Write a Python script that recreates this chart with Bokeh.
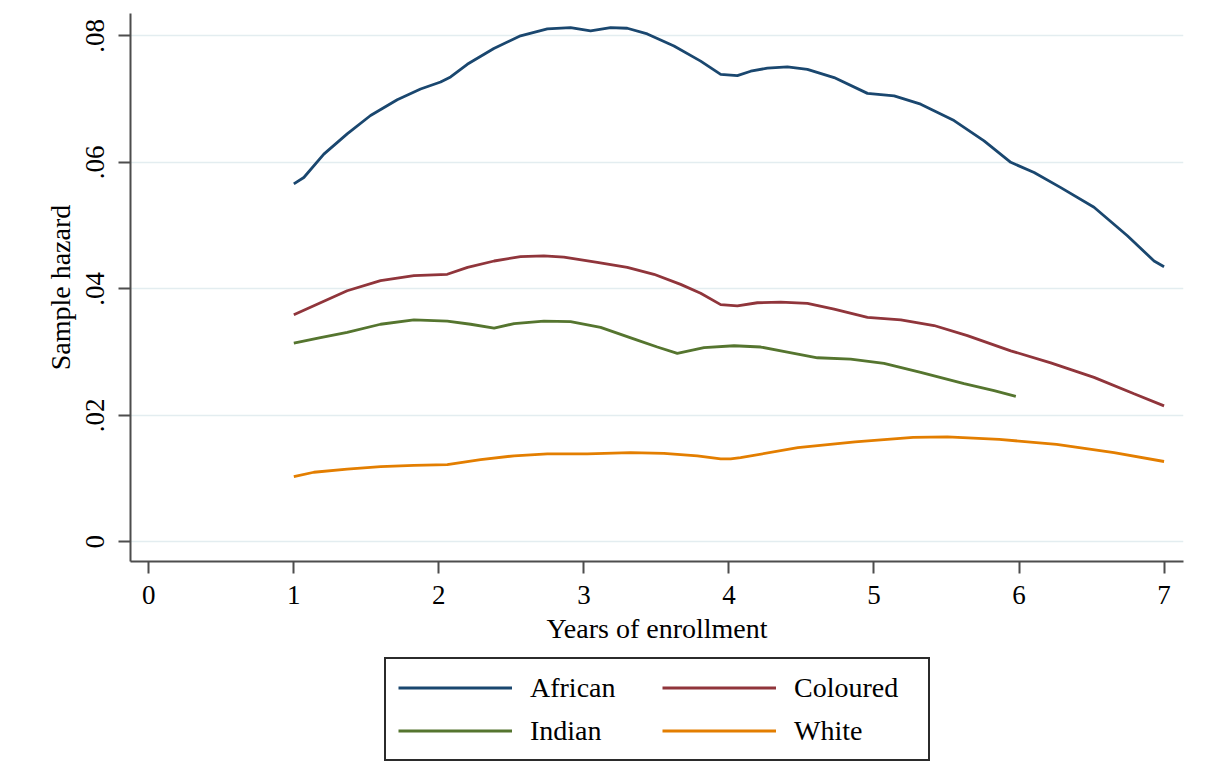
from bokeh.plotting import figure
from bokeh.layouts import column
from bokeh.models import Range1d, FixedTicker, Legend, LegendItem
from bokeh.embed import file_html
from bokeh.resources import INLINE

# ---- data ----
african_x = [1.0, 1.069, 1.207, 1.368, 1.529, 1.713, 1.874, 2.012, 2.081, 2.196, 2.379, 2.563,
             2.748, 2.908, 3.046, 3.184, 3.299, 3.437, 3.621, 3.805, 3.943, 4.058, 4.150, 4.265,
             4.403, 4.541, 4.725, 4.955, 5.139, 5.322, 5.552, 5.759, 5.943, 6.104, 6.288, 6.517,
             6.747, 6.931, 7.0]
african_y = [0.0566, 0.0576, 0.0613, 0.0645, 0.0674, 0.0699, 0.0716, 0.0727, 0.0735, 0.0755, 0.0780,
             0.0800, 0.0811, 0.0813, 0.0808, 0.0813, 0.0812, 0.0803, 0.0784, 0.0760, 0.0739, 0.0737,
             0.0744, 0.0749, 0.0751, 0.0747, 0.0734, 0.0709, 0.0705, 0.0692, 0.0666, 0.0634, 0.0600,
             0.0584, 0.0560, 0.0529, 0.0484, 0.0444, 0.0435]

coloured_x = [1.0, 1.184, 1.368, 1.598, 1.828, 2.058, 2.198, 2.381, 2.563, 2.724, 2.862, 3.092, 3.299,
              3.483, 3.667, 3.805, 3.943, 4.058, 4.196, 4.357, 4.541, 4.725, 4.955, 5.185, 5.414,
              5.644, 5.943, 6.219, 6.517, 6.793, 7.0]
coloured_y = [0.0359, 0.0378, 0.0397, 0.0413, 0.0421, 0.0423, 0.0434, 0.0444, 0.0451, 0.0452, 0.0450,
              0.0442, 0.0434, 0.0423, 0.0407, 0.0393, 0.0375, 0.0373, 0.0378, 0.0379, 0.0377, 0.0368,
              0.0355, 0.0351, 0.0342, 0.0326, 0.0302, 0.0283, 0.0260, 0.0234, 0.0215]

indian_x = [1.0, 1.184, 1.368, 1.598, 1.828, 2.058, 2.219, 2.381, 2.519, 2.724, 2.908, 3.115, 3.368,
            3.506, 3.644, 3.828, 4.035, 4.219, 4.403, 4.610, 4.839, 5.069, 5.322, 5.621, 5.828, 5.978]
indian_y = [0.0314, 0.0323, 0.0331, 0.0344, 0.0351, 0.0349, 0.0344, 0.0338, 0.0345, 0.0349, 0.0348,
            0.0339, 0.0319, 0.0308, 0.0298, 0.0307, 0.0310, 0.0308, 0.0300, 0.0291, 0.0289, 0.0282,
            0.0268, 0.0250, 0.0239, 0.0230]

white_x = [1.0, 1.138, 1.368, 1.598, 1.828, 2.058, 2.288, 2.519, 2.748, 3.023, 3.322, 3.552, 3.782,
           3.943, 4.012, 4.08, 4.475, 4.87, 5.27, 5.506, 5.863, 6.259, 6.655, 7.0]
white_y = [0.0103, 0.0110, 0.0115, 0.0119, 0.0121, 0.0122, 0.0130, 0.0136, 0.0139, 0.0139, 0.0141,
           0.0140, 0.0136, 0.0131, 0.0131, 0.0133, 0.0149, 0.0158, 0.0165, 0.0166, 0.0162, 0.0154,
           0.0141, 0.0127]

x_ticks = [0, 1, 2, 3, 4, 5, 6, 7]
y_ticks = [0, 0.02, 0.04, 0.06, 0.08]
y_tick_labels = ["0", ".02", ".04", ".06", ".08"]

series_names = ["African", "Coloured", "Indian", "White"]
series_colors = ["#1a476f", "#90353b", "#55752f", "#e37e00"]

FONT = "Liberation Serif"
AXIS_COLOR = "#4d4d4d"

# ---------------- main plot ----------------
p = figure(frame_width=1053, frame_height=548,
           x_range=Range1d(-0.126, 7.134), y_range=Range1d(-0.00311, 0.08353),
           output_backend="svg", toolbar_location=None,
           min_border_left=130, min_border_right=17, min_border_top=13, min_border_bottom=96)

p.outline_line_color = None
p.background_fill_color = "white"
p.border_fill_color = "white"

p.xgrid.grid_line_color = None
p.ygrid.grid_line_color = "#e3edf0"
p.ygrid.grid_line_width = 1.5

p.xaxis.ticker = FixedTicker(ticks=x_ticks)
p.yaxis.ticker = FixedTicker(ticks=y_ticks)
p.yaxis.major_label_overrides = {t: l for t, l in zip(y_ticks, y_tick_labels)}
p.yaxis.major_label_orientation = "vertical"
for ax in (p.xaxis[0], p.yaxis[0]):
    ax.axis_line_color = AXIS_COLOR
    ax.axis_line_width = 2
    ax.major_tick_line_color = AXIS_COLOR
    ax.major_tick_line_width = 2
    ax.major_tick_out = 12
    ax.major_tick_in = 0
    ax.minor_tick_line_color = None
    ax.major_label_text_font = FONT
    ax.major_label_text_font_size = "27px"
    ax.major_label_text_color = "black"
    ax.axis_label_text_font = FONT
    ax.axis_label_text_font_size = "28px"
    ax.axis_label_text_font_style = "normal"
    ax.axis_label_text_color = "black"

p.xaxis.axis_label = "Years of enrollment"
p.yaxis.axis_label = "Sample hazard"
p.xaxis.major_label_standoff = 12
p.xaxis.axis_label_standoff = 6
p.yaxis.major_label_standoff = 14
p.yaxis.axis_label_standoff = 8

xs = [african_x, coloured_x, indian_x, white_x]
ys = [african_y, coloured_y, indian_y, white_y]
for x, y, c in zip(xs, ys, series_colors):
    p.line(x, y, line_color=c, line_width=2.8)

# ---------------- legend strip (separate figure below the plot) ----------------
p2 = figure(width=1200, height=108, x_axis_type=None, y_axis_type=None,
            x_range=Range1d(100, 101), y_range=Range1d(100, 101),
            output_backend="svg", toolbar_location=None, min_border=0)
p2.outline_line_color = None
p2.grid.visible = False
p2.background_fill_color = "white"
p2.border_fill_color = "white"

leg_renderers = {}
for n, x, y, c in zip(series_names, xs, ys, series_colors):
    leg_renderers[n] = p2.line(x, y, line_color=c, line_width=2.8)

# legend fills column by column: African/Indian in column 1, Coloured/White in column 2
legend_order = ["African", "Indian", "Coloured", "White"]
items = [LegendItem(label=n, renderers=[leg_renderers[n]]) for n in legend_order]
legend = Legend(items=items, ncols=2, location=(254, 4),
                border_line_color="#2b2b2b", border_line_width=2, border_line_alpha=1.0,
                background_fill_color="white", background_fill_alpha=1.0,
                padding=12, spacing=10, margin=0,
                glyph_width=114, glyph_height=33, label_height=33, label_width=122,
                label_standoff=18,
                label_text_font=FONT, label_text_font_size="28px", label_text_color="black")
p2.add_layout(legend, "center")

layout = column(p, p2, spacing=0)
open("out.html", "w").write(file_html(layout, INLINE))
